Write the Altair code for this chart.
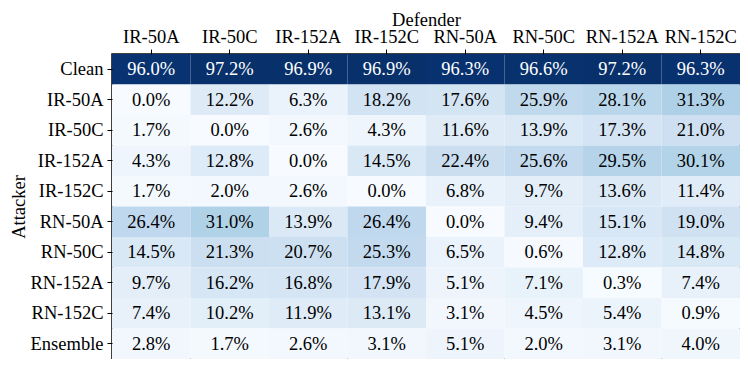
import altair as alt
import pandas as pd

attackers = ["Clean", "IR-50A", "IR-50C", "IR-152A", "IR-152C",
             "RN-50A", "RN-50C", "RN-152A", "RN-152C", "Ensemble"]
defenders = ["IR-50A", "IR-50C", "IR-152A", "IR-152C",
             "RN-50A", "RN-50C", "RN-152A", "RN-152C"]
values = [
    [96.0, 97.2, 96.9, 96.9, 96.3, 96.6, 97.2, 96.3],
    [0.0, 12.2, 6.3, 18.2, 17.6, 25.9, 28.1, 31.3],
    [1.7, 0.0, 2.6, 4.3, 11.6, 13.9, 17.3, 21.0],
    [4.3, 12.8, 0.0, 14.5, 22.4, 25.6, 29.5, 30.1],
    [1.7, 2.0, 2.6, 0.0, 6.8, 9.7, 13.6, 11.4],
    [26.4, 31.0, 13.9, 26.4, 0.0, 9.4, 15.1, 19.0],
    [14.5, 21.3, 20.7, 25.3, 6.5, 0.6, 12.8, 14.8],
    [9.7, 16.2, 16.8, 17.9, 5.1, 7.1, 0.3, 7.4],
    [7.4, 10.2, 11.9, 13.1, 3.1, 4.5, 5.4, 0.9],
    [2.8, 1.7, 2.6, 3.1, 5.1, 2.0, 3.1, 4.0],
]
blues = ["#f7fbff", "#deebf7", "#c6dbef", "#9ecae1", "#6baed6",
         "#4292c6", "#2171b5", "#08519c", "#08306b"]

rows = []
for a, vals in zip(attackers, values):
    for d, v in zip(defenders, vals):
        rows.append({"Attacker": a, "Defender": d, "v": v})
df = pd.DataFrame(rows)

vmin = min(min(r) for r in values)
vmax = max(max(r) for r in values)
stops = [vmin + (vmax - vmin) * i / (len(blues) - 1) for i in range(len(blues))]

FONT = "Liberation Serif"
FS = 18.5

x = alt.X("Defender:N", sort=defenders,
          scale=alt.Scale(paddingInner=0, paddingOuter=0),
          axis=alt.Axis(orient="top", labelAngle=0, title="Defender",
                        tickSize=5, labelPadding=3,
                        titleBaseline="top", titleY=-44))
y = alt.Y("Attacker:N", sort=attackers,
          scale=alt.Scale(paddingInner=0, paddingOuter=0),
          axis=alt.Axis(title="Attacker", tickSize=5, labelPadding=4,
                        titlePadding=2))

base = alt.Chart(df).encode(x=x, y=y)

rect = base.mark_rect().encode(
    color=alt.Color("v:Q", scale=alt.Scale(domain=stops, range=blues,
                                            interpolate="rgb"),
                    legend=None)
)
text = base.transform_calculate(
    label="format(datum.v, '.1f') + '%'"
).mark_text(font=FONT, fontSize=FS).encode(
    text="label:N",
    color=alt.condition("datum.v > 50", alt.value("white"), alt.value("black")),
)

chart = (rect + text).properties(
    width=628, height=305,
    autosize="none",
    padding={"left": 104, "top": 46, "right": 0, "bottom": 0},
).configure_view(
    stroke="black", strokeWidth=1.5
).configure_axis(
    labelFont=FONT, labelFontSize=FS, labelColor="black",
    titleFont=FONT, titleFontSize=FS, titleColor="black",
    titleFontWeight="normal",
    tickColor="black", tickWidth=1,
    domain=False, grid=False,
)

chart.save("out.html", embed_options={"renderer": "svg", "actions": False})
